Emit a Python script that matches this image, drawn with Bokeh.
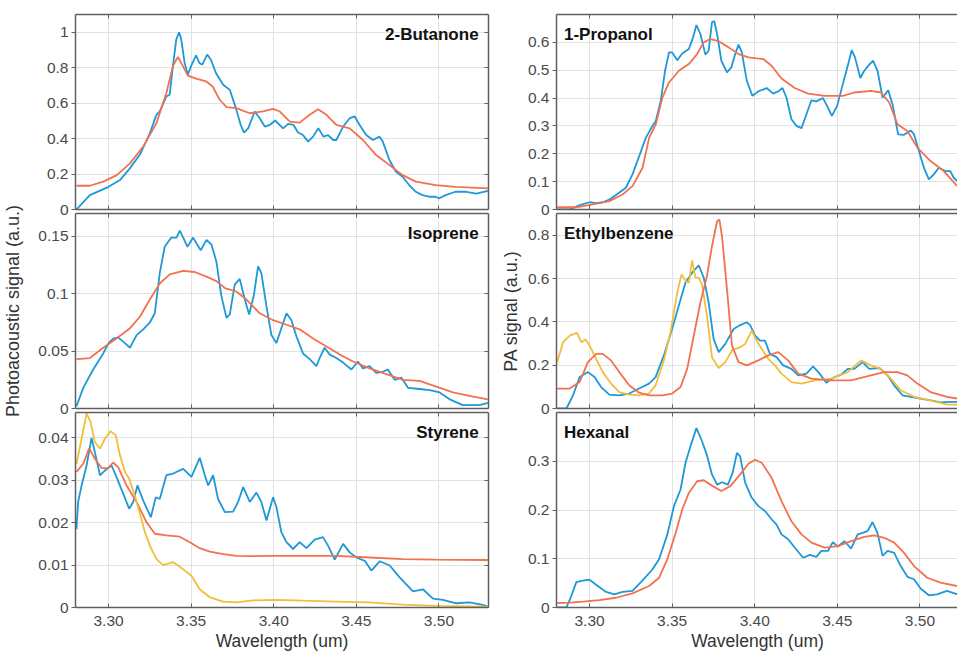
from bokeh.plotting import figure
from bokeh.models import Label, FixedTicker, LinearAxis, Range1d
from bokeh.layouts import row, column
from bokeh.embed import file_html
from bokeh.resources import INLINE

BLUE = "#1e98d6"
ORANGE = "#f2714e"
YELLOW = "#f3bd3c"

x_ticks = [3.30, 3.35, 3.40, 3.45, 3.50]
x_tick_labels = ["3.30", "3.35", "3.40", "3.45", "3.50"]

# ---------------- 2-Butanone ----------------
butanone_ticks = [0, 0.2, 0.4, 0.6, 0.8, 1.0]
butanone_tick_labels = ["0", "0.2", "0.4", "0.6", "0.8", "1"]
butanone_blue = [(3.2806, 0), (3.2887, 0.081), (3.30, 0.128), (3.3069, 0.166), (3.3129, 0.232), (3.319, 0.31),
                 (3.325, 0.43), (3.329, 0.534), (3.331, 0.553), (3.335, 0.638), (3.337, 0.647), (3.339, 0.81),
                 (3.341, 0.96), (3.3427, 1.0), (3.344, 0.96), (3.346, 0.83), (3.348, 0.76), (3.350, 0.81),
                 (3.353, 0.87), (3.355, 0.826), (3.3567, 0.817), (3.3597, 0.874), (3.362, 0.845), (3.365, 0.77),
                 (3.3694, 0.704), (3.3734, 0.675), (3.3774, 0.562), (3.38, 0.477), (3.382, 0.434), (3.3845, 0.458),
                 (3.3885, 0.553), (3.3915, 0.515), (3.3946, 0.468), (3.3976, 0.477), (3.4008, 0.502), (3.4057, 0.458),
                 (3.4087, 0.483), (3.412, 0.477), (3.4147, 0.434), (3.4177, 0.42), (3.4208, 0.383), (3.4238, 0.411),
                 (3.427, 0.458), (3.43, 0.411), (3.4329, 0.42), (3.436, 0.392), (3.4379, 0.392), (3.442, 0.468),
                 (3.446, 0.515), (3.449, 0.525), (3.452, 0.477), (3.456, 0.42), (3.46, 0.392), (3.464, 0.411),
                 (3.466, 0.383), (3.470, 0.279), (3.474, 0.213), (3.478, 0.185), (3.482, 0.138), (3.486, 0.1),
                 (3.49, 0.081), (3.494, 0.072), (3.498, 0.072), (3.50, 0.062), (3.504, 0.081), (3.51, 0.1),
                 (3.5165, 0.1), (3.5226, 0.09), (3.5296, 0.105)]
butanone_orange = [(3.2806, 0.134), (3.2887, 0.134), (3.2968, 0.157), (3.305, 0.194), (3.313, 0.26), (3.321, 0.355),
                   (3.329, 0.487), (3.335, 0.657), (3.339, 0.81), (3.342, 0.86), (3.345, 0.81), (3.348, 0.755),
                   (3.353, 0.738), (3.359, 0.723), (3.363, 0.694), (3.3673, 0.619), (3.3714, 0.577), (3.3774, 0.572),
                   (3.3855, 0.543), (3.3935, 0.553), (3.3996, 0.568), (3.4036, 0.553), (3.4097, 0.496), (3.4157, 0.49),
                   (3.4218, 0.534), (3.4268, 0.566), (3.4319, 0.534), (3.4379, 0.477), (3.446, 0.458), (3.454, 0.392),
                   (3.462, 0.307), (3.470, 0.251), (3.478, 0.194), (3.486, 0.157), (3.498, 0.138), (3.51, 0.128),
                   (3.5296, 0.119)]

# ---------------- Isoprene ----------------
isoprene_ticks = [0, 0.05, 0.1, 0.15]
isoprene_tick_labels = ["0", "0.05", "0.1", "0.15"]
isoprene_blue = [(3.2806, 0.002), (3.2847, 0.018), (3.2907, 0.034), (3.2968, 0.048), (3.30, 0.057), (3.3028, 0.061),
                 (3.3058, 0.062), (3.3099, 0.057), (3.313, 0.053), (3.317, 0.064), (3.321, 0.069), (3.325, 0.075),
                 (3.328, 0.083), (3.331, 0.118), (3.334, 0.141), (3.338, 0.149), (3.3411, 0.149), (3.3431, 0.155),
                 (3.3452, 0.149), (3.3478, 0.141), (3.3512, 0.149), (3.3532, 0.144), (3.3558, 0.138), (3.3593, 0.147),
                 (3.3623, 0.143), (3.3653, 0.128), (3.3683, 0.098), (3.3714, 0.079), (3.3734, 0.082), (3.3764, 0.108),
                 (3.3794, 0.113), (3.3825, 0.095), (3.3851, 0.082), (3.388, 0.099), (3.3905, 0.124), (3.3925, 0.118),
                 (3.3956, 0.089), (3.3986, 0.064), (3.4016, 0.057), (3.4046, 0.07), (3.4077, 0.083), (3.4107, 0.077),
                 (3.4137, 0.063), (3.4177, 0.048), (3.4218, 0.043), (3.4258, 0.037), (3.4278, 0.044), (3.4308, 0.053),
                 (3.4339, 0.047), (3.4379, 0.044), (3.442, 0.04), (3.447, 0.034), (3.451, 0.041), (3.454, 0.035),
                 (3.458, 0.037), (3.462, 0.031), (3.466, 0.032), (3.469, 0.034), (3.4732, 0.025), (3.4772, 0.027),
                 (3.4813, 0.018), (3.4883, 0.017), (3.4944, 0.016), (3.5004, 0.014), (3.5065, 0.008), (3.5145, 0.003),
                 (3.5246, 0.003), (3.5296, 0.005)]
isoprene_orange = [(3.2806, 0.043), (3.2887, 0.044), (3.2968, 0.053), (3.3048, 0.061), (3.313, 0.07), (3.319, 0.08),
                   (3.325, 0.095), (3.331, 0.109), (3.337, 0.117), (3.3452, 0.12), (3.3522, 0.119), (3.3593, 0.115),
                   (3.3653, 0.111), (3.3704, 0.105), (3.3774, 0.102), (3.3835, 0.095), (3.3915, 0.083), (3.3996, 0.077),
                   (3.4077, 0.073), (3.4157, 0.069), (3.4238, 0.061), (3.4319, 0.054), (3.44, 0.047), (3.448, 0.041),
                   (3.458, 0.035), (3.4681, 0.03), (3.4782, 0.025), (3.4883, 0.024), (3.4984, 0.019), (3.5085, 0.014),
                   (3.5185, 0.011), (3.5296, 0.008)]

# ---------------- Styrene ----------------
styrene_ticks = [0, 0.01, 0.02, 0.03, 0.04]
styrene_tick_labels = ["0", "0.01", "0.02", "0.03", "0.04"]
styrene_blue = [(3.2806, 0.0185), (3.2816, 0.0249), (3.2837, 0.0288), (3.2867, 0.0335), (3.2897, 0.04), (3.2917, 0.0367),
                (3.2948, 0.0312), (3.2978, 0.0323), (3.3018, 0.0335), (3.3048, 0.0308), (3.3089, 0.0268), (3.3125, 0.0233),
                (3.3149, 0.0249), (3.3175, 0.0288), (3.321, 0.0252), (3.3256, 0.0213), (3.3286, 0.026), (3.331, 0.0256),
                (3.335, 0.0312), (3.3391, 0.0316), (3.3452, 0.0327), (3.3502, 0.0308), (3.3552, 0.0353), (3.3583, 0.0312),
                (3.3603, 0.0288), (3.3633, 0.0312), (3.3663, 0.0256), (3.3704, 0.0225), (3.3754, 0.0226), (3.3784, 0.0249),
                (3.3815, 0.0284), (3.3855, 0.0249), (3.3895, 0.0271), (3.3925, 0.0249), (3.3956, 0.0205), (3.3996, 0.026),
                (3.4016, 0.0237), (3.4046, 0.0178), (3.4077, 0.0154), (3.4117, 0.0138), (3.4157, 0.0154), (3.4198, 0.014),
                (3.4248, 0.016), (3.4298, 0.0166), (3.4329, 0.0146), (3.4369, 0.0113), (3.442, 0.015), (3.446, 0.013),
                (3.45, 0.0118), (3.4551, 0.011), (3.4591, 0.0087), (3.4641, 0.0109), (3.4702, 0.0099), (3.4762, 0.0071),
                (3.4843, 0.0038), (3.4903, 0.0043), (3.4964, 0.0021), (3.5024, 0.0018), (3.5105, 0.001), (3.5185, 0.0012),
                (3.5266, 0.0006), (3.5296, 0.0002)]
styrene_orange = [(3.2806, 0.032), (3.2847, 0.0339), (3.2883, 0.0376), (3.2917, 0.0351), (3.2958, 0.0329), (3.2998, 0.0329),
                  (3.3028, 0.0342), (3.3058, 0.0331), (3.3109, 0.0288), (3.317, 0.0249), (3.323, 0.0201), (3.328, 0.0174),
                  (3.335, 0.017), (3.3431, 0.0167), (3.3492, 0.0154), (3.3552, 0.014), (3.3613, 0.0132), (3.3694, 0.0126),
                  (3.3774, 0.0122), (3.3855, 0.0121), (3.3976, 0.0122), (3.4177, 0.0122), (3.4379, 0.0122), (3.458, 0.0118),
                  (3.4782, 0.0114), (3.4984, 0.0113), (3.5296, 0.0112)]
styrene_yellow = [(3.2806, 0.0339), (3.2837, 0.0398), (3.2867, 0.0458), (3.2891, 0.0438), (3.2917, 0.039), (3.2948, 0.0375),
                  (3.2978, 0.0398), (3.3012, 0.0416), (3.3044, 0.0406), (3.3069, 0.0359), (3.3099, 0.032), (3.3125, 0.0304),
                  (3.3159, 0.0264), (3.319, 0.0221), (3.322, 0.0178), (3.325, 0.0146), (3.329, 0.0114), (3.3331, 0.01),
                  (3.3391, 0.0107), (3.3421, 0.0099), (3.3462, 0.0087), (3.3502, 0.0075), (3.3552, 0.0043), (3.3613, 0.0024),
                  (3.3694, 0.0014), (3.3774, 0.0012), (3.3875, 0.0017), (3.4016, 0.0018), (3.4177, 0.0016), (3.4379, 0.0014),
                  (3.458, 0.0012), (3.4782, 0.0007), (3.4984, 0.0004), (3.5296, 0.0002)]

# ---------------- 1-Propanol ----------------
propanol_ticks = [0, 0.1, 0.2, 0.3, 0.4, 0.5, 0.6]
propanol_tick_labels = ["0", "0.1", "0.2", "0.3", "0.4", "0.5", "0.6"]
propanol_blue = [(3.2804, 0.0), (3.288, 0.0), (3.294, 0.016), (3.30, 0.026), (3.304, 0.023), (3.308, 0.026), (3.312, 0.036),
                 (3.316, 0.052), (3.322, 0.078), (3.326, 0.126), (3.3301, 0.192), (3.3341, 0.258), (3.3381, 0.3),
                 (3.3401, 0.318), (3.3431, 0.39), (3.3457, 0.498), (3.3481, 0.564), (3.35, 0.564), (3.3531, 0.536),
                 (3.3561, 0.56), (3.3601, 0.576), (3.3627, 0.618), (3.3647, 0.662), (3.3671, 0.63), (3.3701, 0.556),
                 (3.3721, 0.57), (3.3741, 0.672), (3.3755, 0.676), (3.3772, 0.63), (3.3798, 0.534), (3.3832, 0.492),
                 (3.3858, 0.51), (3.3882, 0.558), (3.3902, 0.592), (3.3922, 0.564), (3.3952, 0.462), (3.3986, 0.408),
                 (3.4022, 0.424), (3.4072, 0.436), (3.4112, 0.416), (3.4142, 0.424), (3.4168, 0.436), (3.4192, 0.402),
                 (3.4222, 0.324), (3.4253, 0.3), (3.4283, 0.292), (3.4313, 0.342), (3.4343, 0.392), (3.4373, 0.388),
                 (3.4413, 0.4), (3.4443, 0.366), (3.4467, 0.336), (3.4499, 0.372), (3.4533, 0.45), (3.4563, 0.516),
                 (3.4587, 0.572), (3.4607, 0.546), (3.4639, 0.472), (3.4663, 0.498), (3.4693, 0.52), (3.4717, 0.534),
                 (3.4743, 0.498), (3.4774, 0.402), (3.4808, 0.428), (3.4834, 0.378), (3.4868, 0.27), (3.4904, 0.268),
                 (3.4944, 0.284), (3.4964, 0.27), (3.4994, 0.21), (3.5024, 0.15), (3.5054, 0.108), (3.5084, 0.126),
                 (3.5114, 0.15), (3.5154, 0.138), (3.5184, 0.138), (3.5204, 0.114), (3.5226, 0.102)]
propanol_orange = [(3.2804, 0.008), (3.292, 0.008), (3.302, 0.018), (3.312, 0.03), (3.32, 0.054), (3.326, 0.084),
                   (3.3321, 0.15), (3.3361, 0.258), (3.3401, 0.306), (3.3441, 0.402), (3.3481, 0.456), (3.3541, 0.498),
                   (3.3601, 0.522), (3.3651, 0.558), (3.3691, 0.6), (3.3731, 0.612), (3.3782, 0.604), (3.3842, 0.582),
                   (3.3902, 0.558), (3.3962, 0.546), (3.4052, 0.54), (3.4102, 0.516), (3.4162, 0.47), (3.4242, 0.436),
                   (3.4323, 0.416), (3.4423, 0.408), (3.4533, 0.408), (3.4603, 0.42), (3.4703, 0.426), (3.4764, 0.42),
                   (3.4814, 0.384), (3.4864, 0.306), (3.4924, 0.282), (3.4984, 0.222), (3.5064, 0.174), (3.5144, 0.138),
                   (3.5226, 0.084)]

# ---------------- Ethylbenzene ----------------
ethyl_ticks = [0, 0.2, 0.4, 0.6, 0.8]
ethyl_tick_labels = ["0", "0.2", "0.4", "0.6", "0.8"]
ethyl_blue = [(3.2804, 0.0), (3.286, 0.0), (3.29, 0.061), (3.294, 0.145), (3.299, 0.168), (3.303, 0.145), (3.307, 0.099),
              (3.312, 0.064), (3.318, 0.061), (3.324, 0.069), (3.33, 0.092), (3.336, 0.115), (3.34, 0.145), (3.345, 0.245),
              (3.35, 0.367), (3.354, 0.474), (3.3581, 0.581), (3.3621, 0.627), (3.3661, 0.661), (3.3691, 0.604),
              (3.3721, 0.489), (3.3751, 0.321), (3.3782, 0.26), (3.3822, 0.298), (3.3872, 0.367), (3.3912, 0.385),
              (3.3952, 0.398), (3.3972, 0.385), (3.4002, 0.336), (3.4032, 0.313), (3.4062, 0.313), (3.4092, 0.252),
              (3.4132, 0.237), (3.4172, 0.199), (3.4222, 0.183), (3.4263, 0.153), (3.4313, 0.161), (3.4353, 0.194),
              (3.4393, 0.161), (3.4433, 0.119), (3.4473, 0.141), (3.4523, 0.156), (3.4563, 0.183), (3.4603, 0.183),
              (3.4653, 0.214), (3.4693, 0.183), (3.4754, 0.187), (3.4804, 0.153), (3.4844, 0.107), (3.4894, 0.061),
              (3.4944, 0.054), (3.5004, 0.046), (3.5064, 0.038), (3.5124, 0.028), (3.5184, 0.031), (3.5226, 0.031)]
ethyl_yellow = [(3.2804, 0.214), (3.284, 0.306), (3.288, 0.336), (3.2924, 0.349), (3.295, 0.306), (3.2976, 0.318),
                (3.30, 0.291), (3.304, 0.229), (3.308, 0.168), (3.313, 0.115), (3.318, 0.076), (3.324, 0.064), (3.33, 0.061),
                (3.336, 0.069), (3.34, 0.107), (3.345, 0.222), (3.349, 0.352), (3.3531, 0.535), (3.3557, 0.619),
                (3.3581, 0.589), (3.3601, 0.581), (3.3621, 0.683), (3.3641, 0.604), (3.3661, 0.604), (3.3681, 0.573),
                (3.3711, 0.428), (3.3741, 0.237), (3.3782, 0.187), (3.3822, 0.214), (3.3862, 0.268), (3.3912, 0.283),
                (3.3942, 0.298), (3.3982, 0.359), (3.4006, 0.321), (3.4042, 0.275), (3.4082, 0.229), (3.4122, 0.199),
                (3.4162, 0.161), (3.4222, 0.122), (3.4283, 0.115), (3.4363, 0.13), (3.4463, 0.138), (3.4563, 0.168),
                (3.4643, 0.222), (3.4703, 0.199), (3.4764, 0.183), (3.4824, 0.138), (3.4884, 0.084), (3.4964, 0.054),
                (3.5064, 0.038), (3.5164, 0.018), (3.5226, 0.018)]
ethyl_orange = [(3.2804, 0.092), (3.288, 0.092), (3.294, 0.122), (3.299, 0.214), (3.304, 0.252), (3.308, 0.252),
                (3.313, 0.222), (3.318, 0.168), (3.324, 0.107), (3.33, 0.073), (3.336, 0.061), (3.3441, 0.061),
                (3.35, 0.069), (3.3551, 0.099), (3.3591, 0.183), (3.3631, 0.336), (3.3671, 0.489), (3.3711, 0.612),
                (3.3741, 0.749), (3.3772, 0.864), (3.3786, 0.872), (3.3802, 0.795), (3.3832, 0.55), (3.3862, 0.291),
                (3.3902, 0.214), (3.3952, 0.199), (3.4022, 0.222), (3.4082, 0.245), (3.4142, 0.26), (3.4202, 0.222),
                (3.4263, 0.161), (3.4343, 0.138), (3.4463, 0.13), (3.4583, 0.13), (3.4703, 0.153), (3.4784, 0.168),
                (3.4864, 0.168), (3.4924, 0.153), (3.4984, 0.115), (3.5064, 0.076), (3.5164, 0.054), (3.5226, 0.046)]

# ---------------- Hexanal ----------------
hexanal_ticks = [0, 0.1, 0.2, 0.3]
hexanal_tick_labels = ["0", "0.1", "0.2", "0.3"]
hexanal_blue = [(3.2804, 0.0), (3.286, 0.0), (3.289, 0.024), (3.292, 0.052), (3.296, 0.055), (3.30, 0.057), (3.305, 0.044),
                (3.31, 0.032), (3.315, 0.027), (3.32, 0.032), (3.326, 0.034), (3.332, 0.055), (3.338, 0.078),
                (3.3421, 0.099), (3.3471, 0.15), (3.3511, 0.208), (3.3551, 0.242), (3.3581, 0.297), (3.3611, 0.331),
                (3.3647, 0.368), (3.3681, 0.341), (3.3711, 0.312), (3.3741, 0.273), (3.3772, 0.252), (3.3802, 0.257),
                (3.3838, 0.252), (3.3866, 0.276), (3.3892, 0.317), (3.3912, 0.31), (3.3942, 0.256), (3.3982, 0.225),
                (3.4022, 0.208), (3.4062, 0.198), (3.4102, 0.181), (3.4132, 0.17), (3.4162, 0.15), (3.4202, 0.14),
                (3.4242, 0.123), (3.4293, 0.102), (3.4333, 0.108), (3.4373, 0.104), (3.4403, 0.116), (3.4443, 0.116),
                (3.4473, 0.134), (3.4503, 0.125), (3.4543, 0.136), (3.4583, 0.121), (3.4623, 0.15), (3.4653, 0.153),
                (3.4683, 0.157), (3.4713, 0.175), (3.4743, 0.153), (3.4774, 0.106), (3.4804, 0.116), (3.4844, 0.112),
                (3.4884, 0.085), (3.4924, 0.063), (3.4964, 0.058), (3.5004, 0.039), (3.5054, 0.025), (3.5104, 0.027),
                (3.5164, 0.034), (3.5226, 0.027)]
hexanal_orange = [(3.2804, 0.009), (3.288, 0.01), (3.296, 0.012), (3.306, 0.015), (3.316, 0.02), (3.326, 0.029),
                  (3.3361, 0.044), (3.3421, 0.061), (3.3471, 0.099), (3.3521, 0.153), (3.3561, 0.201), (3.3601, 0.235),
                  (3.3651, 0.259), (3.3691, 0.261), (3.3741, 0.25), (3.3798, 0.239), (3.3852, 0.249), (3.3912, 0.273),
                  (3.3962, 0.295), (3.4002, 0.303), (3.4042, 0.297), (3.4102, 0.266), (3.4162, 0.218), (3.4222, 0.177),
                  (3.4283, 0.15), (3.4343, 0.133), (3.4423, 0.123), (3.4503, 0.126), (3.4583, 0.136), (3.4663, 0.145),
                  (3.4723, 0.148), (3.4784, 0.143), (3.4844, 0.133), (3.4904, 0.112), (3.4964, 0.085), (3.5044, 0.061),
                  (3.5124, 0.051), (3.5226, 0.044)]

FONT = "Liberation Sans"
AX = "#5f5f5f"
TICK_TXT = "#4a4a4a"

# canvas borders (top, bottom) and negative top margins so canvases overlap
BORDERS = {0: (14, 12), 1: (13, 12), 2: (12, 46)}
MARGIN_TOP = {0: 0, 1: -21, 2: -20}


def hide_labels(ax):
    ax.major_label_text_font_size = "0px"
    ax.major_label_standoff = 0
    ax.axis_label = None


def panel(name, series, yticks, ylabels, ymax, side, pos, ylabel=None):
    left = side == "left"
    fw = 413 if left else 402
    xend = 3.53 if left else 3.28 + 0.25 * 402 / 413
    mb_top, mb_bottom = BORDERS[pos]
    p = figure(frame_width=fw, frame_height=195, x_range=Range1d(3.28, xend), y_range=Range1d(0, ymax),
               output_backend="svg", toolbar_location=None,
               min_border_left=73 if left else 60, min_border_right=8 if left else 1,
               min_border_top=mb_top, min_border_bottom=mb_bottom,
               outline_line_color=None, background_fill_color="white", border_fill_color=None,
               margin=(MARGIN_TOP[pos], 0, 0, 0))
    p.add_layout(LinearAxis(), "above")
    if left:
        p.add_layout(LinearAxis(), "right")

    p.xaxis.ticker = FixedTicker(ticks=x_ticks)
    p.xaxis.major_label_overrides = dict(zip(x_ticks, x_tick_labels))
    p.yaxis.ticker = FixedTicker(ticks=yticks)
    p.yaxis.major_label_overrides = dict(zip(yticks, ylabels))
    for ax in list(p.xaxis) + list(p.yaxis):
        ax.axis_line_color = AX
        ax.axis_line_width = 1.5
        ax.major_tick_line_color = AX
        ax.major_tick_line_width = 1
        ax.minor_tick_line_color = None
        ax.major_label_text_font = FONT
        ax.major_label_text_font_size = "15.5px"
        ax.major_label_text_color = TICK_TXT
        ax.axis_label_text_font = FONT
        ax.axis_label_text_font_style = "normal"
        ax.axis_label_text_font_size = "18px"
        ax.axis_label_text_color = "#333333"
    for ax in p.xaxis:
        ax.major_tick_in = 4
        ax.major_tick_out = 0
    below = p.below[0]
    above = p.above[0]
    hide_labels(above)
    if pos == 2:
        below.major_label_standoff = 8
        below.axis_label = "Wavelength (um)"
        below.axis_label_standoff = 2
        below.axis_label_text_font_size = "17.5px"
    else:
        hide_labels(below)
    yl = p.left[0]
    yl.major_tick_out = 4
    yl.major_tick_in = 0
    yl.major_label_standoff = 3
    if ylabel:
        yl.axis_label = ylabel
        yl.axis_label_standoff = 12 if left else 4
    if left:
        yr = p.right[0]
        yr.major_tick_out = 0
        yr.major_tick_in = 4
        hide_labels(yr)

    p.xgrid.ticker = FixedTicker(ticks=x_ticks)
    p.ygrid.ticker = FixedTicker(ticks=yticks)
    p.grid.grid_line_color = "#e2e2e2"
    p.grid.grid_line_width = 1

    for pts, color in series:
        xs = [a for a, b in pts]
        ys = [b for a, b in pts]
        p.line(xs, ys, line_color=color, line_width=1.8)

    ytxt = ymax * (1 - 19.5 / 195)
    if left:
        lab = Label(x=3.5240, y=ytxt, text=name, text_align="right", text_baseline="middle")
    else:
        lab = Label(x=3.2845, y=ytxt, text=name, text_align="left", text_baseline="middle")
    lab.text_font = FONT
    lab.text_font_style = "bold"
    lab.text_font_size = "17px"
    lab.text_color = "#111111"
    p.add_layout(lab)
    return p


L1 = panel("2-Butanone", [(butanone_blue, BLUE), (butanone_orange, ORANGE)],
           butanone_ticks, butanone_tick_labels, 1.1, "left", 0)
L2 = panel("Isoprene", [(isoprene_blue, BLUE), (isoprene_orange, ORANGE)],
           isoprene_ticks, isoprene_tick_labels, 0.17, "left", 1, ylabel="Photoacoustic signal (a.u.)")
L3 = panel("Styrene", [(styrene_blue, BLUE), (styrene_orange, ORANGE), (styrene_yellow, YELLOW)],
           styrene_ticks, styrene_tick_labels, 0.046, "left", 2)
R1 = panel("1-Propanol", [(propanol_blue, BLUE), (propanol_orange, ORANGE)],
           propanol_ticks, propanol_tick_labels, 0.7, "right", 0)
R2 = panel("Ethylbenzene", [(ethyl_blue, BLUE), (ethyl_yellow, YELLOW), (ethyl_orange, ORANGE)],
           ethyl_ticks, ethyl_tick_labels, 0.9, "right", 1, ylabel="PA signal (a.u.)")
R3 = panel("Hexanal", [(hexanal_blue, BLUE), (hexanal_orange, ORANGE)],
           hexanal_ticks, hexanal_tick_labels, 0.4, "right", 2)

layout = row(column(L1, L2, L3), column(R1, R2, R3))

open("out.html", "w").write(file_html(layout, INLINE))
